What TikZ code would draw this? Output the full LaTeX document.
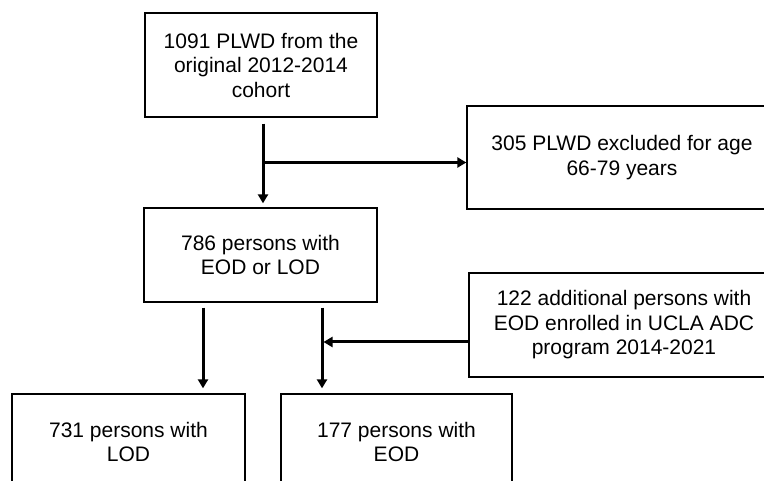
\documentclass[tikz,border=0pt]{standalone}
\usepackage{fontspec}
\setmainfont{Liberation Sans}
\usepackage{tikz}
\usetikzlibrary{arrows.meta}
\usetikzlibrary{calc,positioning}

\tikzset{
  box/.style={draw, line width=1.3pt, align=center, inner sep=0pt,
    font=\fontsize{21}{24.5}\selectfont},
  arr/.style={line width=3pt, -{Triangle[width=10pt,length=9pt]}}
}

\begin{document}
\begin{tikzpicture}[x=1pt,y=-1pt]

    \clip (0,0) rectangle (764,481);

    % Cohort
    \node[box, minimum width=232pt, minimum height=104pt] (cohort) at (261,65)
      {1091 PLWD from the\\original 2012-2014\\cohort};

    % Excluded
    \node[box, minimum width=310pt, minimum height=103pt] (excl) at (622,157.5)
      {305 PLWD excluded for age\\66-79 years};

    % EOD or LOD
    \node[box, minimum width=233pt, minimum height=94pt] (eolod) at (260.5,255)
      {786 persons with\\EOD or LOD};

    % UCLA ADC
    \node[box, minimum width=310pt, minimum height=104pt] (ucla) at (624,325)
      {122 additional persons with\\EOD enrolled in UCLA ADC\\program 2014-2021};

    % Final groups
    \node[box, minimum width=233pt, minimum height=96pt] (lod) at (128.5,442)
      {731 persons with\\LOD};
    \node[box, minimum width=231pt, minimum height=96pt] (eod) at (396.5,442)
      {177 persons with\\EOD};

    % Arrows
    \draw[arr, shorten <=6pt, shorten >=4pt] ([xshift=2pt]cohort.south)
      -- ([xshift=2pt]cohort.south |- eolod.north);
    \coordinate (split) at ($(cohort.south)!0.5!(eolod.north)+(2,0)$);
    \draw[arr] (split) -- (split -| excl.west);

    \coordinate (tolod) at ([xshift=-57.5pt]eolod.south);
    \coordinate (toeod) at ([xshift=61.5pt]eolod.south);
    \draw[arr, shorten <=5pt, shorten >=5pt] (tolod) -- (tolod |- lod.north);
    \draw[arr, shorten <=5pt, shorten >=5pt] (toeod) -- (toeod |- eod.north);
    \draw[arr, shorten >=1.5pt] ([yshift=-17pt]ucla.west)
      -- ([yshift=-17pt]ucla.west -| toeod);

\end{tikzpicture}
\end{document}
